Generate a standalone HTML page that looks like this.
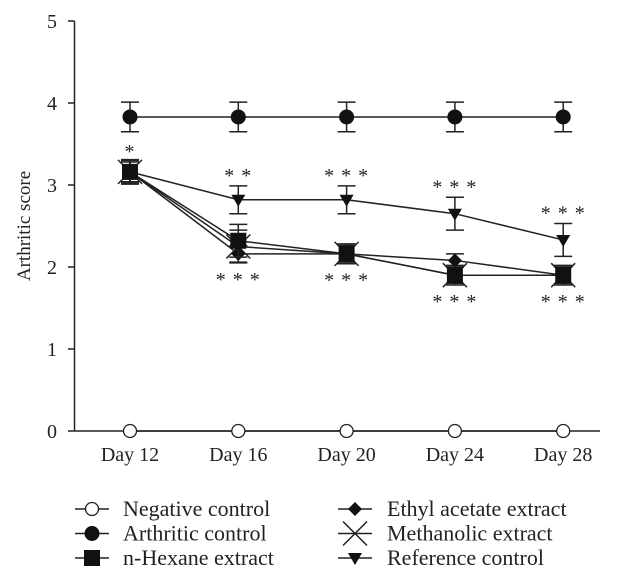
<!DOCTYPE html>
<html><head><meta charset="utf-8"><style>
body{margin:0;background:#fff;}
svg text{font-family:"Liberation Serif",serif;fill:#222;}
</style></head><body>
<svg id="chart" width="632" height="583" xmlns="http://www.w3.org/2000/svg"></svg>
<script>
const categories=["Day 12","Day 16","Day 20","Day 24","Day 28"];
const yTicks=[0,1,2,3,4,5];
const negative=[0,0,0,0,0];
const arthritic=[3.83,3.83,3.83,3.83,3.83];
const arthriticErr=[0.18,0.18,0.18,0.18,0.18];
const hexane=[3.16,2.32,2.16,1.9,1.9];
const hexaneErr=[0.14,0.2,0.12,0.1,0.1];
const ethyl=[3.16,2.16,2.16,2.08,1.9];
const ethylErr=[0.14,0.1,0.1,0.08,0.1];
const methanol=[3.16,2.25,2.16,1.9,1.9];
const methanolErr=[0.15,0.2,0.12,0.12,0.12];
const reference=[3.16,2.82,2.82,2.65,2.33];
const referenceErr=[0.12,0.17,0.17,0.2,0.2];
const sigTop=["*","**","***","***","***"];
const sigBottom=["","***","***","***","***"];

const svg=document.getElementById('chart');
const NS="http://www.w3.org/2000/svg";
function xs(i){return 130+i*108.3;}
function ys(v){return 431-v*82;}
function el(tag,attrs,parent){const e=document.createElementNS(NS,tag);for(const k in attrs)e.setAttribute(k,attrs[k]);(parent||svg).appendChild(e);return e;}

let a=el('line',{x1:74.5,y1:21,x2:74.5,y2:431,stroke:'#222','stroke-width':1.5});


a=el('line',{x1:74.5,y1:431,x2:600,y2:431,stroke:'#222','stroke-width':1.5});


yTicks.forEach(t=>{
  el('line',{x1:68,y1:ys(t),x2:74.5,y2:ys(t),stroke:'#222','stroke-width':1.5});
  const tx=el('text',{x:57,y:ys(t)+7,'text-anchor':'end','font-size':20});
  tx.textContent=t;
  
  
});
categories.forEach((c,i)=>{
  el('line',{x1:xs(i),y1:431,x2:xs(i),y2:437,stroke:'#222','stroke-width':1.5});
  const tx=el('text',{x:xs(i),y:461,'text-anchor':'middle','font-size':20});
  tx.textContent=c;
  
  
});
const yt=el('text',{x:0,y:0,'text-anchor':'middle','font-size':19,transform:'translate(30,226) rotate(-90)'});
yt.textContent='Arthritic score';



function marker(type,x,y,g){
  if(type==='circle-open')el('circle',{cx:x,cy:y,r:6.5,fill:'#fff',stroke:'#222','stroke-width':1.3},g);
  if(type==='circle')el('circle',{cx:x,cy:y,r:7.5,fill:'#111'},g);
  if(type==='square')el('rect',{x:x-8,y:y-8,width:16,height:16,fill:'#111'},g);
  if(type==='diamond')el('polygon',{points:`${x},${y-7} ${x+7},${y} ${x},${y+7} ${x-7},${y}`,fill:'#111'},g);
  if(type==='x')el('path',{d:`M${x-12},${y-12}L${x+12},${y+12}M${x-12},${y+12}L${x+12},${y-12}`,stroke:'#222','stroke-width':1.5},g);
  if(type==='tri')el('polygon',{points:`${x-7},${y-5} ${x+7},${y-5} ${x},${y+7}`,fill:'#111'},g);
}
function series(name,vals,errs,type){
  const g=el('g',{});
  
  
  el('polyline',{points:vals.map((v,i)=>xs(i)+','+ys(v)).join(' '),fill:'none',stroke:'#222','stroke-width':1.5},g);
  vals.forEach((v,i)=>{
    if(errs){const e=errs[i];
      el('path',{d:`M${xs(i)},${ys(v+e)}L${xs(i)},${ys(v-e)}M${xs(i)-9},${ys(v+e)}L${xs(i)+9},${ys(v+e)}M${xs(i)-9},${ys(v-e)}L${xs(i)+9},${ys(v-e)}`,stroke:'#222','stroke-width':1.5},g);}
    marker(type,xs(i),ys(v),g);
  });
}
series('negative-control-series',negative,null,'circle-open');
series('arthritic-control-series',arthritic,arthriticErr,'circle');
series('reference-control-series',reference,referenceErr,'tri');
series('methanolic-series',methanol,methanolErr,'x');
series('ethyl-acetate-series',ethyl,ethylErr,'diamond');
series('n-hexane-series',hexane,hexaneErr,'square');

sigTop.forEach((s,i)=>{
  if(!s)return;
  const v=reference[i]+referenceErr[i];
  const t=el('text',{x:xs(i),y:ys(v)-4,'text-anchor':'middle','font-size':20,'letter-spacing':1});
  t.textContent=s.split('').join(' ');
  
  
});
sigBottom.forEach((s,i)=>{
  if(!s)return;
  const v=Math.min(hexane[i]-hexaneErr[i],methanol[i]-methanolErr[i]);
  const t=el('text',{x:xs(i),y:ys(v)+23,'text-anchor':'middle','font-size':20,'letter-spacing':1});
  t.textContent=s.split('').join(' ');
  
  
});

const legend=[["Negative control","circle-open",0,0],["Arthritic control","circle",0,1],["n-Hexane extract","square",0,2],
["Ethyl acetate extract","diamond",1,0],["Methanolic extract","x",1,1],["Reference control","tri",1,2]];
legend.forEach(l=>{
  const g=el('g',{});
  
  
  const cx=l[2]?355:92, cy=509+l[3]*24.5;
  el('line',{x1:cx-17,y1:cy,x2:cx+17,y2:cy,stroke:'#222','stroke-width':1.5},g);
  marker(l[1],cx,cy,g);
  const t=el('text',{x:l[2]?387:123,y:cy+7,'font-size':22},g);
  t.textContent=l[0];
});
</script>
</body></html>
